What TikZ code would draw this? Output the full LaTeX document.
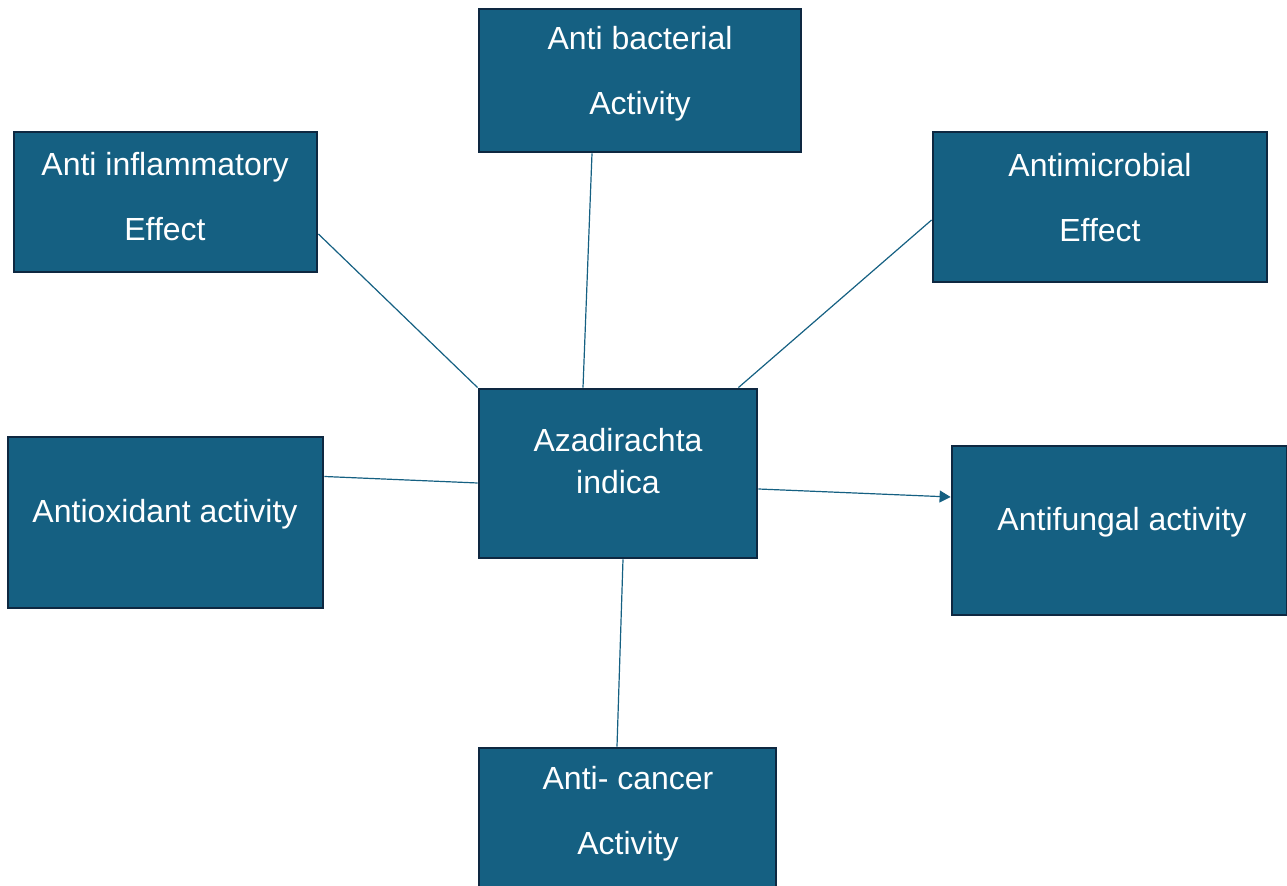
\documentclass[tikz,border=0pt]{standalone}
\usepackage{fontspec}
\setmainfont{Liberation Sans}
\usetikzlibrary{arrows.meta}
\definecolor{boxfill}{HTML}{156082}
\definecolor{boxline}{HTML}{0E2841}
\definecolor{conn}{HTML}{156082}
\tikzset{
  box/.style={draw=boxline, line width=1.4pt, fill=boxfill, rectangle, inner sep=0pt},
  txt/.style={text=white, align=center, font=\fontsize{16}{32.5}\selectfont, inner sep=0pt},
  txtc/.style={text=white, align=center, font=\fontsize{16}{21}\selectfont, inner sep=0pt},
  link/.style={draw=conn, line width=0.6pt},
}
\begin{document}
\begin{tikzpicture}[x=0.5pt,y=-0.5pt]
\useasboundingbox (0,0) rectangle (1287,886);
\clip (0,0) rectangle (1287,886);
% boxes
\node[box, minimum width=151.5pt, minimum height=70pt] (infl) at (165.5,202) {};
\node[box, minimum width=161pt, minimum height=71.5pt] (bact) at (640,80.5) {};
\node[box, minimum width=167pt, minimum height=75pt] (micro) at (1100,207) {};
\node[box, minimum width=157.5pt, minimum height=85.5pt] (oxi) at (165.5,522.5) {};
\node[box, minimum width=139pt, minimum height=84.5pt] (aza) at (618,473.5) {};
\node[box, minimum width=167.5pt, minimum height=84.5pt] (fung) at (1119.5,530.5) {};
\node[box, minimum width=148.5pt, minimum height=80pt] (canc) at (627.5,828) {};
% texts
\node[txt] (inflT) at (165,196.5) {Anti inflammatory\\Effect};
\node[txt] (bactT) at (640,73.5) {Anti bacterial\\Activity};
\node[txt] (microT) at (1100,197.5) {Antimicrobial\\Effect};
\node[txt] (oxiT) at (165,514) {Antioxidant activity};
\node[txtc] (azaT) at (618,461) {Azadirachta\\indica};
\node[txt] (fungT) at (1122,522) {Antifungal activity};
\node[txt] (cancT) at (628,814) {Anti- cancer\\Activity};
% connectors
\draw[link] ([yshift=-16pt]infl.east) -- (aza.north west);
\draw[link] ([xshift=-24pt]bact.south) -- ([xshift=-17.5pt]aza.north);
\draw[link] ([yshift=-6.5pt]micro.west) -- ([xshift=-10pt]aza.north east);
\draw[link] ([yshift=23pt]oxi.east) -- ([yshift=-4.75pt]aza.west);
\draw[link, -{Triangle[length=5.5pt,width=6pt]}] ([yshift=-7.75pt]aza.east) -- ([yshift=16.75pt]fung.west);
\draw[link] ([xshift=2.5pt]aza.south) -- ([xshift=-5.25pt]canc.north);
\end{tikzpicture}
\end{document}
